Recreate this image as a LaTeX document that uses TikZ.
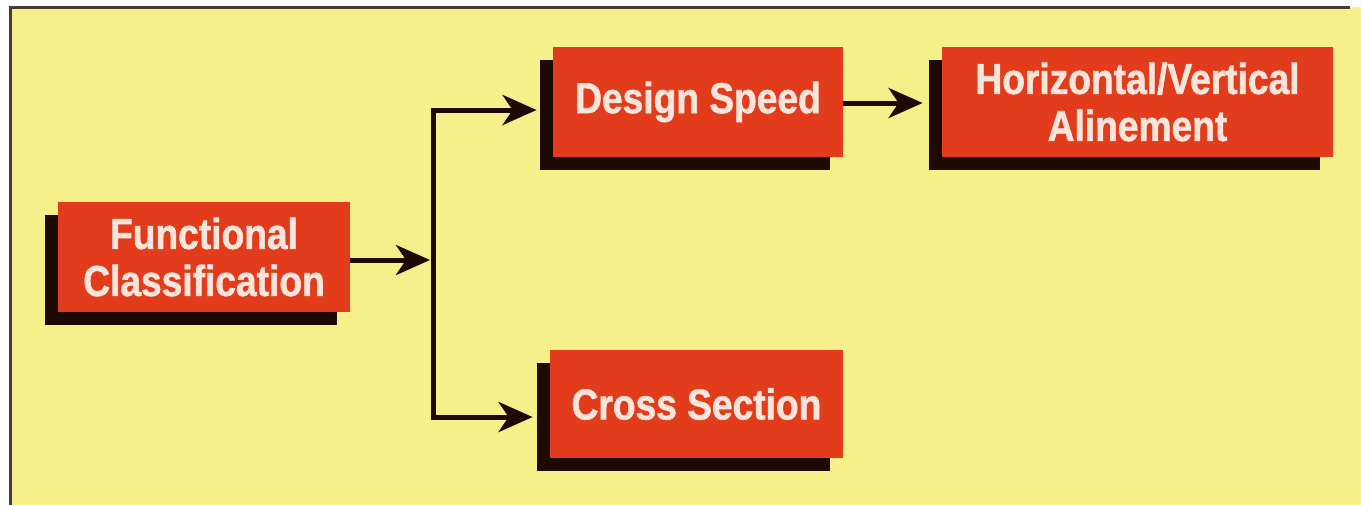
\documentclass[tikz,border=0pt]{standalone}
\usepackage{fontspec}
\usepackage{tikz}
\usetikzlibrary{positioning,arrows.meta,shadows}
\newfontfamily\boxfont{Liberation Sans}[FakeStretch=0.86, BoldFeatures={FakeBold=1.3}]
\definecolor{Paper}{HTML}{F7EF8A}
\definecolor{Brick}{HTML}{E23C1C}
\definecolor{Ink}{HTML}{1E0A02}
\definecolor{Pale}{HTML}{FBE4DA}

\begin{document}
\begin{tikzpicture}[
  x=0.5pt, y=-0.5pt,
  box/.style={fill=Brick, text=Pale, align=center, minimum height=55pt, inner sep=0pt,
    font=\boxfont\bfseries\fontsize{21.6}{23.5}\selectfont,
    drop shadow={shadow xshift=-6.5pt, shadow yshift=-6.5pt, opacity=1, fill=Ink}},
  arrow/.style={-{Stealth[length=17pt, width=15pt, inset=5pt]}, line width=2.5pt, color=Ink},
  link/.style={line width=2.5pt, color=Ink}
]
  \useasboundingbox (0,0) rectangle (1361,505);
  \fill[Paper] (10,7) rectangle (1361,505);
  \draw[line width=1.5pt, color=Ink!80] (1350,7) -- (10,7) -- (10,505);

  \node[box, minimum width=146pt] (fc) at (204,257) {Functional\\Classification};
  \node[box, minimum width=145pt] (ds) at (698,102) {Design Speed};
  \node[box, minimum width=195.5pt] (hv) at (1137.5,102) {Horizontal/Vertical\\Alinement};
  \node[box, minimum width=146.5pt, minimum height=54pt] (cs) at (696.5,404) {Cross Section};

  \coordinate (split) at (433,260);
  \coordinate (up) at (433,110);
  \coordinate (down) at (433,417);

  \draw[link] ([yshift=1.25pt]up) -- ([yshift=-1.25pt]down);
  \draw[arrow] (fc.east |- split) -- ([xshift=-1.5pt]split);
  \draw[arrow] (up) -- ([xshift=-8pt]up -| ds.west);
  \draw[arrow] (down) -- ([xshift=-8.5pt]down -| cs.west);
  \draw[arrow] (ds.east |- 0,103) -- ([xshift=-9.5pt]hv.west |- 0,103);
\end{tikzpicture}
\end{document}
